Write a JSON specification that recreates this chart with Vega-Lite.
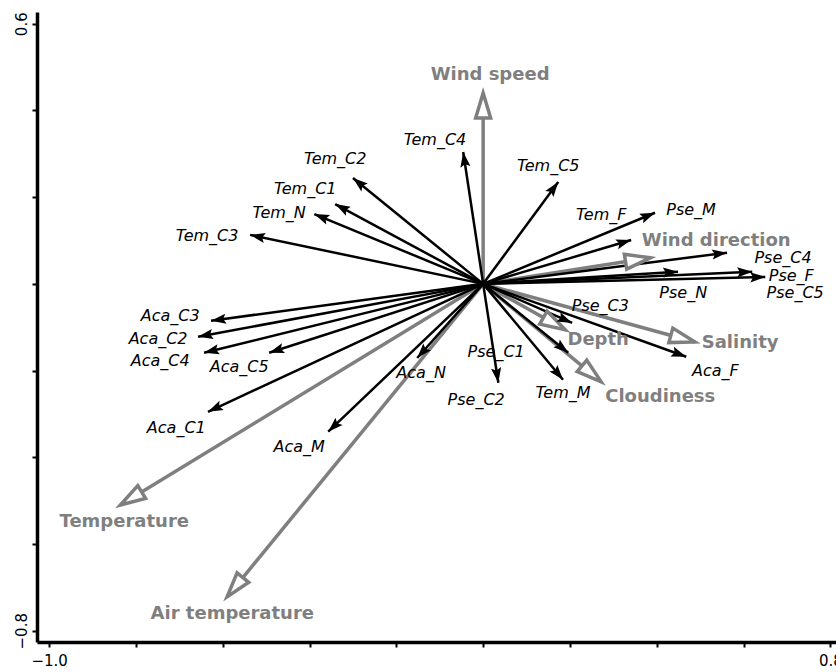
{
  "$schema": "https://vega.github.io/schema/vega-lite/v6.json",
  "autosize": {"type": "none"},
  "padding": {"left": 37, "top": 12, "right": 0, "bottom": 30},
  "width": 799,
  "height": 630,
  "background": "white",
  "config": {"view": {"stroke": null}},
  "datasets": {
    "species": [
      {"name": "Tem_C2", "x": -0.300, "y": 0.244, "lx": -0.341, "ly": 0.288},
      {"name": "Tem_C1", "x": -0.341, "y": 0.184, "lx": -0.410, "ly": 0.219},
      {"name": "Tem_N", "x": -0.389, "y": 0.161, "lx": -0.470, "ly": 0.164},
      {"name": "Tem_C3", "x": -0.537, "y": 0.113, "lx": -0.636, "ly": 0.111},
      {"name": "Tem_C4", "x": -0.046, "y": 0.304, "lx": -0.111, "ly": 0.332},
      {"name": "Tem_C5", "x": 0.173, "y": 0.235, "lx": 0.150, "ly": 0.272},
      {"name": "Tem_F", "x": 0.341, "y": 0.101, "lx": 0.272, "ly": 0.159},
      {"name": "Tem_M", "x": 0.184, "y": -0.221, "lx": 0.184, "ly": -0.251},
      {"name": "Aca_C3", "x": -0.627, "y": -0.085, "lx": -0.721, "ly": -0.074},
      {"name": "Aca_C2", "x": -0.657, "y": -0.122, "lx": -0.749, "ly": -0.127},
      {"name": "Aca_C4", "x": -0.643, "y": -0.159, "lx": -0.744, "ly": -0.178},
      {"name": "Aca_C5", "x": -0.493, "y": -0.159, "lx": -0.562, "ly": -0.191},
      {"name": "Aca_C1", "x": -0.634, "y": -0.295, "lx": -0.707, "ly": -0.332},
      {"name": "Aca_M", "x": -0.357, "y": -0.341, "lx": -0.424, "ly": -0.376},
      {"name": "Aca_N", "x": -0.152, "y": -0.171, "lx": -0.143, "ly": -0.205},
      {"name": "Aca_F", "x": 0.468, "y": -0.168, "lx": 0.535, "ly": -0.201},
      {"name": "Pse_M", "x": 0.396, "y": 0.164, "lx": 0.479, "ly": 0.171},
      {"name": "Pse_C4", "x": 0.562, "y": 0.072, "lx": 0.691, "ly": 0.060},
      {"name": "Pse_N", "x": 0.449, "y": 0.028, "lx": 0.461, "ly": -0.021},
      {"name": "Pse_F", "x": 0.620, "y": 0.028, "lx": 0.710, "ly": 0.018},
      {"name": "Pse_C5", "x": 0.650, "y": 0.016, "lx": 0.719, "ly": -0.021},
      {"name": "Pse_C3", "x": 0.205, "y": -0.090, "lx": 0.270, "ly": -0.051},
      {"name": "Pse_C2", "x": 0.035, "y": -0.228, "lx": -0.016, "ly": -0.268},
      {"name": "Pse_C1", "x": 0.196, "y": -0.159, "lx": 0.030, "ly": -0.157}
    ],
    "env": [
      {"name": "Wind speed", "x": 0.0, "y": 0.44, "lx": 0.016, "ly": 0.482},
      {"name": "Wind direction", "x": 0.385, "y": 0.060, "lx": 0.537, "ly": 0.099},
      {"name": "Depth", "x": 0.189, "y": -0.106, "lx": 0.265, "ly": -0.129},
      {"name": "Salinity", "x": 0.488, "y": -0.134, "lx": 0.592, "ly": -0.136},
      {"name": "Cloudiness", "x": 0.272, "y": -0.226, "lx": 0.408, "ly": -0.261},
      {"name": "Temperature", "x": -0.836, "y": -0.510, "lx": -0.827, "ly": -0.549},
      {"name": "Air temperature", "x": -0.590, "y": -0.722, "lx": -0.578, "ly": -0.761}
    ]
  },
  "encoding": {
    "x": {
      "type": "quantitative",
      "scale": {"domain": [-1.028, 0.813], "nice": false, "zero": false},
      "axis": {
        "orient": "bottom",
        "title": null,
        "values": [-1.0, -0.8, -0.6, -0.4, -0.2, 0, 0.2, 0.4, 0.6, 0.8],
        "format": ".1f",
        "labelExpr": "datum.value == -1 || datum.value == 0.8 ? datum.label : ''",
        "grid": false,
        "domainColor": "black",
        "domainWidth": 3.5,
        "tickColor": "black",
        "tickWidth": 2,
        "tickSize": 5,
        "labelFont": "DejaVu Sans",
        "labelFontSize": 15,
        "labelColor": "black",
        "labelPadding": 6,
        "labelFlush": false,
        "labelOverlap": false
      }
    },
    "y": {
      "type": "quantitative",
      "scale": {"domain": [-0.826, 0.627], "nice": false, "zero": false},
      "axis": {
        "orient": "left",
        "title": null,
        "values": [-0.8, -0.6, -0.4, -0.2, 0, 0.2, 0.4, 0.6],
        "format": ".1f",
        "labelExpr": "datum.value == 0.6 || datum.value == -0.8 ? datum.label : ''",
        "grid": false,
        "domainColor": "black",
        "domainWidth": 3.5,
        "tickColor": "black",
        "tickWidth": 2,
        "tickSize": 5,
        "labelFont": "DejaVu Sans",
        "labelFontSize": 15,
        "labelColor": "black",
        "labelAngle": 270,
        "labelAlign": "center",
        "labelBaseline": "bottom",
        "labelPadding": 3,
        "labelFlush": false,
        "labelOverlap": false
      }
    }
  },
  "layer": [
    {
      "mark": {"type": "rule", "color": "#444444", "strokeWidth": 1, "strokeDash": [1, 1]},
      "encoding": {"x": {"datum": 0, "type": "quantitative"}, "y": null}
    },
    {
      "mark": {"type": "rule", "color": "#444444", "strokeWidth": 1, "strokeDash": [1, 1]},
      "encoding": {"y": {"datum": 0, "type": "quantitative"}, "x": null}
    },
    {
      "mark": {"type": "rule", "color": "black", "strokeWidth": 3.5},
      "encoding": {"y": {"datum": 0.627, "type": "quantitative"}, "x": null}
    },
    {
      "data": {"name": "env"},
      "mark": {"type": "rule", "color": "#7f7f7f", "strokeWidth": 3.5},
      "encoding": {
        "x": {"field": "x", "type": "quantitative"},
        "y": {"field": "y", "type": "quantitative"},
        "x2": {"datum": 0},
        "y2": {"datum": 0}
      }
    },
    {
      "data": {"name": "species"},
      "mark": {"type": "rule", "color": "black", "strokeWidth": 2.5},
      "encoding": {
        "x": {"field": "x", "type": "quantitative"},
        "y": {"field": "y", "type": "quantitative"},
        "x2": {"datum": 0},
        "y2": {"datum": 0}
      }
    },
    {
      "data": {"name": "env"},
      "transform": [{"calculate": "atan2(datum.x, datum.y) * 180 / PI", "as": "ang"}],
      "mark": {"type": "point", "shape": "M0,0L-0.3,1L0.3,1Z", "size": 2500, "filled": true, "fill": "white", "stroke": "#7f7f7f", "strokeWidth": 3.5, "opacity": 1, "fillOpacity": 1},
      "encoding": {
        "x": {"field": "x", "type": "quantitative"},
        "y": {"field": "y", "type": "quantitative"},
        "angle": {"field": "ang", "type": "quantitative", "scale": null}
      }
    },
    {
      "data": {"name": "species"},
      "transform": [{"calculate": "atan2(datum.x, datum.y) * 180 / PI", "as": "ang"}],
      "mark": {"type": "point", "shape": "M0,0L-0.34,1L0,0.82L0.34,1Z", "size": 900, "filled": true, "color": "black", "opacity": 1},
      "encoding": {
        "x": {"field": "x", "type": "quantitative"},
        "y": {"field": "y", "type": "quantitative"},
        "angle": {"field": "ang", "type": "quantitative", "scale": null}
      }
    },
    {
      "data": {"name": "species"},
      "mark": {"type": "text", "font": "DejaVu Sans", "fontStyle": "italic", "fontSize": 16, "color": "black", "align": "center", "baseline": "middle"},
      "encoding": {
        "x": {"field": "lx", "type": "quantitative"},
        "y": {"field": "ly", "type": "quantitative"},
        "text": {"field": "name"}
      }
    },
    {
      "data": {"name": "env"},
      "mark": {"type": "text", "font": "DejaVu Sans", "fontWeight": "bold", "fontSize": 18, "color": "#7f7f7f", "align": "center", "baseline": "middle"},
      "encoding": {
        "x": {"field": "lx", "type": "quantitative"},
        "y": {"field": "ly", "type": "quantitative"},
        "text": {"field": "name"}
      }
    }
  ]
}
